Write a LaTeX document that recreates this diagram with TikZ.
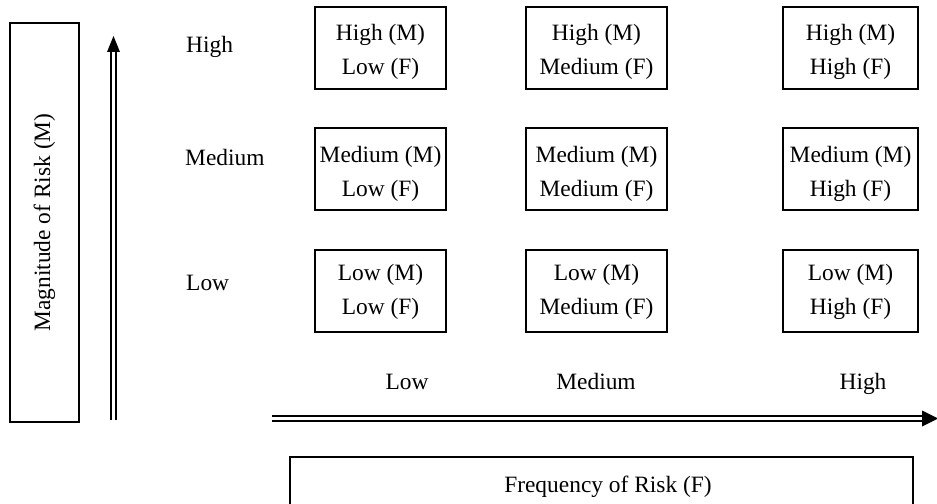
\documentclass[tikz,border=0pt]{standalone}
\usepackage{fontspec}
\setmainfont{Liberation Serif}
% two centred lines, optionally lowered inside their box
\newcommand{\twoline}[3][0bp]{\raisebox{-#1}[\height][\depth]{\begin{tabular}{@{}c@{}}#2\\#3\end{tabular}}}
\begin{document}
\begin{tikzpicture}[x=1bp,y=-1bp,
  every node/.style={font=\fontsize{23.5}{34}\selectfont, inner sep=0pt},
  cell/.style={draw, line width=1.2bp, minimum height=82bp},
  axisbox/.style={draw, line width=1.2bp},
  rail/.style={line width=1.8bp},
  tip/.style={fill=black}]
\useasboundingbox (0,0) rectangle (937,504);

% vertical axis label box
\node[axisbox, minimum width=69bp, minimum height=399bp] (mbox) at (44.5,222.5) {};
\node[rotate=90] (mlabel) at (mbox.center) {Magnitude of Risk (M)};

% vertical double arrow (magnitude)
\coordinate (vlow) at (113.5,420);
\coordinate (vtop) at (113.5,36);
\draw[rail] ([xshift=-2.6bp]vlow) -- ([xshift=-2.6bp,yshift=-14bp]vtop);
\draw[rail] ([xshift=2.6bp]vlow) -- ([xshift=2.6bp,yshift=-14bp]vtop);
\fill[tip] (vtop) -- ++(-6.5,16) -- ++(13,0) -- cycle;

% row labels
\node[anchor=west] (rhigh) at (186,47) {High};
\node[anchor=west] (rmed) at (185,157) {Medium};
\node[anchor=west] (rlow) at (186,283) {Low};

% matrix of cells
\node[cell, minimum width=131bp] (c11) at (380.5,48) {\twoline[3bp]{High (M)}{Low (F)}};
\node[cell, minimum width=141bp] (c12) at (596.5,48) {\twoline[3bp]{High (M)}{Medium (F)}};
\node[cell, minimum width=135bp] (c13) at (850.5,48) {\twoline[3bp]{High (M)}{High (F)}};

\node[cell, minimum width=131bp] (c21) at (380.5,169) {\twoline[4bp]{Medium (M)}{Low (F)}};
\node[cell, minimum width=141bp] (c22) at (596.5,169) {\twoline[4bp]{Medium (M)}{Medium (F)}};
\node[cell, minimum width=135bp] (c23) at (850.5,169) {\twoline[4bp]{Medium (M)}{High (F)}};

\node[cell, minimum width=131bp] (c31) at (380.5,291) {\twoline{Low (M)}{Low (F)}};
\node[cell, minimum width=141bp] (c32) at (596.5,291) {\twoline{Low (M)}{Medium (F)}};
\node[cell, minimum width=135bp] (c33) at (850.5,291) {\twoline{Low (M)}{High (F)}};

% column labels
\node[anchor=base] (clow) at (407,389) {Low};
\node[anchor=base] (cmed) at (596,389) {Medium};
\node[anchor=base] (chigh) at (863,389) {High};

% horizontal double arrow (frequency)
\coordinate (hleft) at (272,418.5);
\coordinate (hright) at (938,418.5);
\draw[rail] ([yshift=-2.6bp]hleft) -- ([yshift=-2.6bp,xshift=-14bp]hright);
\draw[rail] ([yshift=2.6bp]hleft) -- ([yshift=2.6bp,xshift=-14bp]hright);
\fill[tip] (hright) -- ++(-16,-8) -- ++(0,16) -- cycle;

% horizontal axis label box (runs past the lower edge)
\begin{scope}
\clip (0,0) rectangle (937,504);
\draw[line width=1.2bp] (290,520) -- (290,457) -- (913,457) -- (913,520);
\end{scope}
\node (flabel) at (608,487) {Frequency of Risk (F)};
\end{tikzpicture}
\end{document}
